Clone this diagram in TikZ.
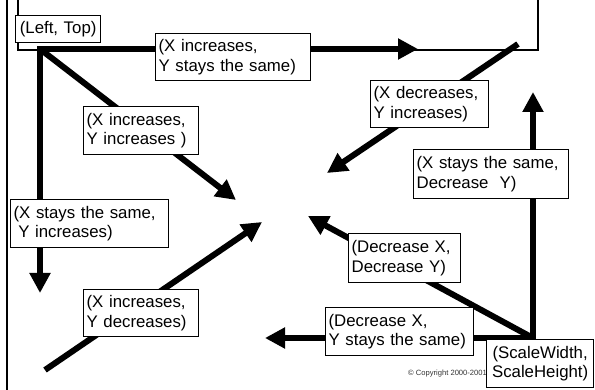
\documentclass[tikz,border=0pt]{standalone}
\usepackage{fontspec}
\setmainfont{Liberation Sans}
\usetikzlibrary{arrows.meta}
\begin{document}
\begin{tikzpicture}[x=1pt,y=-1pt,
  thickarrow/.style={line width=6pt, -{Triangle[length=20pt,width=20pt]}},
  lbl/.style={draw, line width=1.3pt, fill=white, anchor=north west, align=left,
    inner xsep=3pt, inner ysep=0pt, font=\fontsize{16.8}{19.5}\selectfont},
  thinline/.style={line width=1.3pt}]
\useasboundingbox (0,0) rectangle (595,390);
% frame lines
\coordinate (fA) at (7,0);
\coordinate (fB) at (7,390);
\draw[thinline] (fA) -- (fB);
\coordinate (r1) at (18,0);
\coordinate (r2) at (18,50);
\coordinate (r3) at (538,50);
\coordinate (r4) at (538,0);
\draw[thinline] (r1) -- (r2) -- (r3) -- (r4);
% key points
\coordinate (LT) at (40,49);
\coordinate (SW) at (533,338);
\coordinate (tR) at (418,49);
\coordinate (tD) at (40,293);
\coordinate (tDR) at (236,200);
\coordinate (sBL) at (45,370);
\coordinate (tBL) at (262,222);
\coordinate (sTR) at (518,44);
\coordinate (tTR) at (327,173);
\coordinate (tU) at (533,92);
\coordinate (tUL) at (308,216);
\coordinate (tL) at (265,338);
% arrows
\draw[thickarrow, line cap=rect] (LT) -- (tR);
\draw[thickarrow, line cap=rect] (LT) -- (tD);
\draw[thickarrow] (LT) -- (tDR);
\draw[thickarrow] (sBL) -- (tBL);
\draw[thickarrow] (sTR) -- (tTR);
\draw[thickarrow, line cap=rect] (SW) -- (tU);
\draw[thickarrow] (SW) -- (tUL);
\draw[thickarrow, line cap=rect] (SW) -- (tL);
% copyright
\node[anchor=base west, inner sep=0pt, font=\fontsize{7.6}{8}\selectfont, text=black!80] (copy) at (408,375) {\textcopyright{} Copyright 2000-2001};
% labels
\node[lbl, align=center, text width=79pt, minimum height=27pt] (bLT) at (15,15) {(Left, Top)};
\node[lbl, text width=149pt, minimum height=47pt] (b1) at (155,33) {(X increases,\\Y stays the same)};
\node[lbl, text width=109pt, minimum height=48pt] (b2) at (83,106) {(X increases,\\Y increases )};
\node[lbl, text width=112pt, minimum height=47pt] (b3) at (370,80) {(X decreases,\\Y increases)};
\node[lbl, text width=152pt, minimum height=48pt] (b4) at (10,199) {(X stays the same,\\\hspace*{0.28em}Y increases)};
\node[lbl, text width=149pt, minimum height=49pt] (b5) at (413,149) {(X stays the same,\\Decrease~~Y)};
\node[lbl, text width=109pt, minimum height=47pt] (b6) at (83,289) {(X increases,\\Y decreases)};
\node[lbl, text width=106pt, minimum height=49pt] (b7) at (348,233) {(Decrease X,\\Decrease Y)};
\node[lbl, text width=142pt, minimum height=48pt] (b8) at (325,307) {(Decrease X,\\Y stays the same)};
\node[lbl, align=center, text width=101pt, minimum height=48pt] (b9) at (486,339) {(ScaleWidth,\\ScaleHeight)};
\end{tikzpicture}
\end{document}
